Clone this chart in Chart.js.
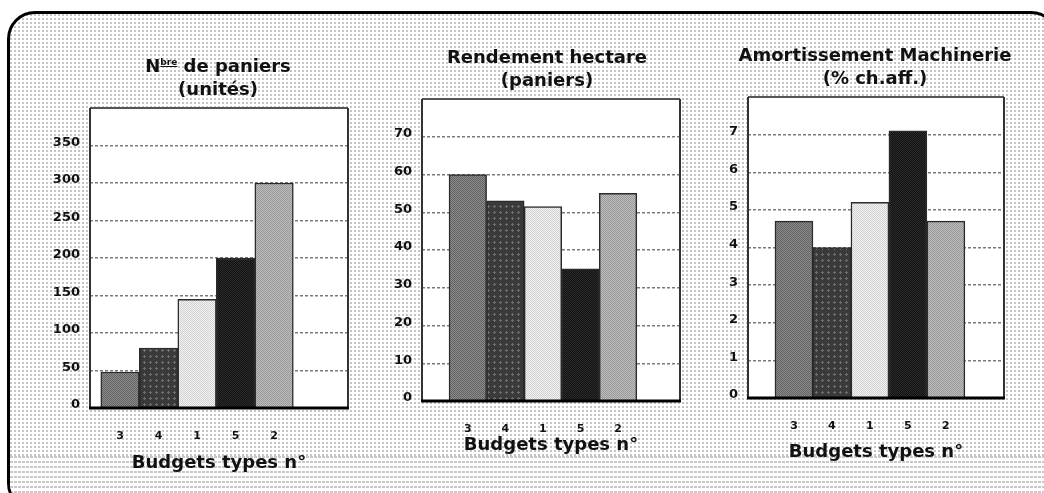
<!DOCTYPE html>
<html lang="fr">
<head>
<meta charset="utf-8">
<title>Budgets types</title>
<script src="https://cdn.jsdelivr.net/npm/chart.js@4.4.1/dist/chart.umd.min.js"></script>
<style>
  html, body { margin: 0; padding: 0; width: 1044px; height: 493px; overflow: hidden; background: #fff; font-family: "DejaVu Sans", sans-serif; }
  .frame {
    position: absolute; left: 7px; top: 11px; width: 1046px; height: 494px;
    border: 3px solid #000; border-radius: 28px; overflow: hidden;
    background-color: #fff;
    background-image: linear-gradient(to right, transparent 50%, #fff 50%), linear-gradient(to bottom, #c4c4c4 50%, #fff 50%);
    background-size: 4px 4px;
  }
  .band {
    position: absolute; left: 0; right: 0; top: 442px; bottom: 0;
    background-color: #fff;
    background-image: linear-gradient(to right, transparent 75%, #fff 75%), linear-gradient(to bottom, #c8c8c8 40%, #fff 40%);
    background-size: 4px 5px;
  }
  canvas { position: absolute; top: 0; z-index: 2; }
  .titre {
    position: absolute; z-index: 3; transform: translateX(-50%);
    font-weight: bold; font-size: 18px; line-height: 23px; text-align: center; white-space: nowrap; color: #111;
  }
  .titre sup { font-size: 9px; line-height: 0; vertical-align: 7px; text-decoration: underline; }
</style>
</head>
<body>
<div class="frame"><div class="band"></div></div>

<div class="titre" style="left:218px; top:54px;">N<sup>bre</sup> de paniers<br>(unités)</div>
<div class="titre" style="left:547px; top:45px;">Rendement hectare<br>(paniers)</div>
<div class="titre" style="left:875px; top:43px;">Amortissement Machinerie<br>(% ch.aff.)</div>

<canvas id="cPaniers" width="316" height="493" style="left:40px;"></canvas>
<canvas id="cRendement" width="316" height="493" style="left:372px;"></canvas>
<canvas id="cAmort" width="312" height="493" style="left:700px;"></canvas>

<script>
// Budget types, in the order shown on every panel
const budgetTypes = ['3', '4', '1', '5', '2'];

// Number of baskets (units)
const nbPaniers = [48, 80, 145, 200, 300];
// Yield per hectare (baskets)
const rendementHectare = [60, 53, 51.5, 35, 55];
// Machinery depreciation (% of turnover)
const amortissementMachinerie = [4.7, 4.0, 5.2, 7.1, 4.7];

// Value axis ranges and steps
const yMaxima = [400, 80, 8];
const yPas = [50, 10, 1];

const FONT = '"DejaVu Sans", sans-serif';

// Small repeating tiles giving each budget type its screen-like texture
function tile(size, paint) {
  const c = document.createElement('canvas');
  c.width = size; c.height = size;
  const g = c.getContext('2d');
  paint(g);
  return g.createPattern(c, 'repeat');
}
function checker(a, b) {
  return tile(2, g => {
    g.fillStyle = a; g.fillRect(0, 0, 2, 2);
    g.fillStyle = b; g.fillRect(0, 0, 1, 1); g.fillRect(1, 1, 1, 1);
  });
}
const fills = [
  checker('#8c8c8c', '#626262'),
  tile(6, g => {
    g.fillStyle = '#3a3a3a'; g.fillRect(0, 0, 6, 6);
    g.fillStyle = '#6e6e6e'; g.fillRect(2, 1, 1, 3); g.fillRect(1, 2, 3, 1);
  }),
  checker('#f2f2f2', '#d2d2d2'),
  checker('#111111', '#2c2c2c'),
  checker('#bebebe', '#989898')
];

// White plotting box with its outline
const panelFrame = {
  id: 'panelFrame',
  beforeDraw(chart) {
    const { ctx, chartArea: a } = chart;
    ctx.save();
    ctx.fillStyle = '#fff';
    ctx.fillRect(a.left, a.top, a.width, a.height);
    ctx.restore();
  },
  afterDraw(chart) {
    const { ctx, chartArea: a } = chart;
    ctx.save();
    ctx.lineWidth = 2;
    ctx.strokeStyle = '#555';
    ctx.beginPath(); ctx.moveTo(a.left, a.top); ctx.lineTo(a.right, a.top); ctx.stroke();
    ctx.strokeStyle = '#333';
    ctx.beginPath(); ctx.moveTo(a.left, a.top); ctx.lineTo(a.left, a.bottom); ctx.stroke();
    ctx.beginPath(); ctx.moveTo(a.right, a.top); ctx.lineTo(a.right, a.bottom); ctx.stroke();
    ctx.lineWidth = 3;
    ctx.strokeStyle = '#000';
    ctx.beginPath(); ctx.moveTo(a.left - 1, a.bottom); ctx.lineTo(a.right + 1, a.bottom); ctx.stroke();
    ctx.restore();
  }
};

function panel(id, values, yMax, yStep, geo) {
  return new Chart(document.getElementById(id), {
    type: 'bar',
    data: {
      datasets: [{
        data: values.map((v, i) => ({ x: i, y: v })),
        backgroundColor: fills,
        borderColor: '#2a2a2a',
        borderWidth: 1.5,
        barPercentage: 1,
        categoryPercentage: 1
      }]
    },
    options: {
      responsive: false,
      animation: false,
      devicePixelRatio: 1,
      layout: { padding: { top: geo.top, right: geo.right, left: 0, bottom: 0 } },
      plugins: { legend: { display: false }, title: { display: false }, tooltip: { enabled: false } },
      scales: {
        x: {
          type: 'linear',
          offset: false,
          min: geo.xMin,
          max: geo.xMax,
          grid: { display: false, offset: false },
          border: { display: false },
          afterBuildTicks: s => { s.ticks = budgetTypes.map((_, i) => ({ value: i })); },
          afterFit: s => { s.height = geo.xHeight; },
          ticks: {
            autoSkip: false, maxRotation: 0, padding: 14, color: '#111',
            font: { family: FONT, weight: 'bold', size: 11 },
            callback: v => budgetTypes[v]
          },
          title: {
            display: true, text: 'Budgets types n°', color: '#111',
            font: { family: FONT, weight: 'bold', size: 18 },
            padding: { top: 0, bottom: geo.titleBottom }
          }
        },
        y: {
          min: 0,
          max: yMax,
          afterFit: s => { s.width = geo.yWidth; },
          grid: { color: '#7a7a7a', lineWidth: 1.5, drawTicks: false, tickLength: 0 },
          border: { display: false, dash: [3, 2] },
          ticks: {
            stepSize: yStep, autoSkip: false, padding: 10, labelOffset: -3, color: '#111',
            font: { family: FONT, weight: 'bold', size: 13 },
            callback: v => (v === yMax ? '' : v)
          }
        }
      }
    },
    plugins: [panelFrame]
  });
}

panel('cPaniers', nbPaniers, yMaxima[0], yPas[0],
  { top: 108, right: 8, yWidth: 50, xHeight: 85, titleBottom: 19, xMin: -0.78, xMax: 5.92 });
panel('cRendement', rendementHectare, yMaxima[1], yPas[1],
  { top: 99, right: 8, yWidth: 50, xHeight: 92, titleBottom: 37, xMin: -1.22, xMax: 5.65 });
panel('cAmort', amortissementMachinerie, yMaxima[2], yPas[2],
  { top: 97, right: 8, yWidth: 48, xHeight: 95, titleBottom: 30, xMin: -1.21, xMax: 5.53 });
</script>
</body>
</html>
